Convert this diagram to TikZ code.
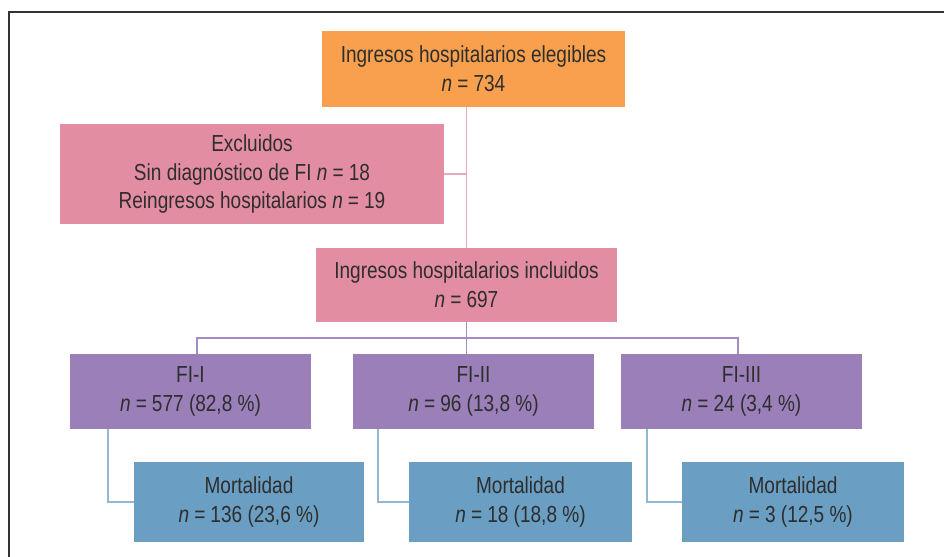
\documentclass[tikz,border=0pt]{standalone}
\usepackage{fontspec}
\setmainfont{Liberation Sans}[FakeStretch=0.82]
\usepackage{tikz}
\usetikzlibrary{positioning, calc}
\definecolor{orangeelig}{HTML}{F8A04E}
\definecolor{pinkincl}{HTML}{E38DA2}
\definecolor{purplefi}{HTML}{9A7FB8}
\definecolor{bluemort}{HTML}{6A9EC2}
\definecolor{pinkline}{HTML}{EAA9BA}
\definecolor{purpleline}{HTML}{A58AC8}
\definecolor{blueline}{HTML}{92B8D4}
\definecolor{textgray}{HTML}{2E2E2E}
\definecolor{framegray}{HTML}{333333}
\newcommand{\nval}[1]{\textit{n}\hspace{0.22em}=\hspace{0.22em}#1}
\tikzset{
  box/.style={rectangle, draw=none, align=center, inner sep=0pt,
              text=textgray, font=\fontsize{17.4}{21.5}\selectfont},
  boxsize/.style 2 args={minimum width=#1*0.75pt, minimum height=#2*0.75pt},
  eligbox/.style={box, fill=orangeelig},
  inclbox/.style={box, fill=pinkincl},
  fibox/.style={box, fill=purplefi},
  mortbox/.style={box, fill=bluemort},
  link/.style={line width=1.4pt},
}

\begin{document}
\begin{tikzpicture}[x=0.75pt, y=-0.75pt]
  \useasboundingbox (0,0) rectangle (944,556);
  \clip (0,0) rectangle (944,556);
  \fill[white] (0,0) rectangle (944,556);
  % frame of the figure
  \draw[framegray, line width=1.5pt] (9,570) -- (9,12) -- (960,12);

  \node[eligbox, boxsize={303}{76}] (elig) at (473.5,69)
        {Ingresos hospitalarios elegibles\\\nval{734}};
  \node[inclbox, boxsize={384}{100}] (excl) at (252,174)
        {Excluidos\\Sin diagnóstico de FI \nval{18}\\Reingresos hospitalarios \nval{19}};
  \node[inclbox, boxsize={301}{74}] (incl) at (466.5,285)
        {Ingresos hospitalarios incluidos\\\nval{697}};

  \node[fibox, boxsize={241}{75}] (fi1) at (190.5,391.5) {FI-I\\\nval{577} (82,8~\%)};
  \node[fibox, boxsize={241}{75}] (fi2) at (473.5,391.5) {FI-II\\\nval{96} (13,8~\%)};
  \node[fibox, boxsize={241}{75}] (fi3) at (741.5,391.5) {FI-III\\\nval{24} (3,4~\%)};

  \node[mortbox, boxsize={230}{80}] (mort1) at (249,502) {Mortalidad\\\nval{136} (23,6~\%)};
  \node[mortbox, boxsize={223}{80}] (mort2) at (520.5,502) {Mortalidad\\\nval{18} (18,8~\%)};
  \node[mortbox, boxsize={222}{80}] (mort3) at (793,502) {Mortalidad\\\nval{3} (12,5~\%)};

  % connectors
  \draw[link, pinkline] (incl.north |- elig.south) -- (incl.north);
  \draw[link, pinkline] (excl.east) -- (excl.east -| incl.north);
  \draw[link, purpleline] (incl.south) -- (incl.south |- fi2.north);
  \draw[link, purpleline] ($(fi1.north)+(6.5,0)$) -- ++(0,-16) -| ($(fi3.north)+(-3.5,0)$);
  \draw[link, blueline] ($(fi1.south)+(-82.5,0)$) |- (mort1.west);
  \draw[link, blueline] ($(fi2.south)+(-95.5,0)$) |- (mort2.west);
  \draw[link, blueline] ($(fi3.south)+(-94.5,0)$) |- (mort3.west);
\end{tikzpicture}
\end{document}
